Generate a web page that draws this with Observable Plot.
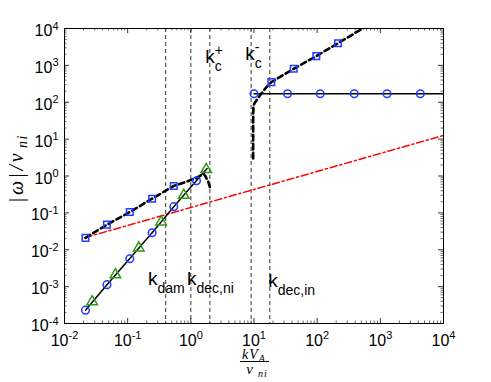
<!DOCTYPE html>
<html><head><meta charset="utf-8">
<script src="https://cdn.jsdelivr.net/npm/d3@7"></script>
<script src="https://cdn.jsdelivr.net/npm/@observablehq/plot@0.6"></script>
<style>body{margin:0;background:#fff} svg{display:block}</style>
</head><body><div id="chart"></div>
<script>
// ---- ticks ----
const xTicks = [1e-2, 1e-1, 1e0, 1e1, 1e2, 1e3, 1e4];
const xTickLabels = ["10^{-2}", "10^{-1}", "10^{0}", "10^{1}", "10^{2}", "10^{3}", "10^{4}"];
const yTicks = [1e-4, 1e-3, 1e-2, 1e-1, 1e0, 1e1, 1e2, 1e3, 1e4];
const yTickLabels = ["10^{-4}", "10^{-3}", "10^{-2}", "10^{-1}", "10^{0}", "10^{1}", "10^{2}", "10^{3}", "10^{4}"];

// ---- lower-k branch ----
const circLoX = [0.0215, 0.047, 0.108, 0.244, 0.537, 1.23];
const circLoY = [2.3e-4, 1.13e-3, 5.7e-3, 0.029, 0.148, 0.74];
const triX = [0.0274, 0.064, 0.15, 0.339, 0.773, 1.75];
const triY = [3.9e-4, 2.1e-3, 0.0112, 0.057, 0.30, 1.5];
const solidLoX = [0.0215, 0.047, 0.108, 0.244, 0.537, 1.23, 1.81];
const solidLoY = [2.3e-4, 1.13e-3, 5.8e-3, 0.029, 0.146, 0.76, 1.6];
const sqLoX = [0.0215, 0.047, 0.108, 0.244, 0.537];
const sqLoY = [0.021, 0.048, 0.105, 0.243, 0.537];
const dashLoX = [0.0215, 0.047, 0.108, 0.244, 0.537, 0.85, 1.25, 1.6, 1.72, 1.88, 2.0];
const dashLoY = [0.021, 0.048, 0.105, 0.243, 0.537, 0.7, 0.9, 1.15, 0.95, 0.72, 0.5];

// ---- high-k branch ----
const circHiX = [10, 34, 112, 387, 1276, 4300];
const circHiY = [170, 170, 170, 170, 170, 170];
const solidHiX = [10, 34, 112, 387, 1276, 4300, 10000];
const solidHiY = [170, 170, 170, 170, 170, 170, 170];
const sqHiX = [18.8, 42.5, 97, 214];
const sqHiY = [351, 809, 1780, 4000];
const dashHiX = [9.7, 9.7, 9.72, 9.8, 10.1, 10.6, 11.5, 13, 15.5, 18.8, 42.5, 97, 214, 600];
const dashHiY = [3, 20, 50, 75, 92, 103, 128, 170, 250, 351, 809, 1780, 4000, 11500];

// ---- red dash-dot reference ----
const redX = [0.0211, 10000];
const redY = [0.0213, 12.6];

// ---- characteristic wavenumbers ----
const kLines = [0.4, 1, 2, 9.0, 17.8];
const kLabelText = ["k_{dam}", "k_{dec,ni}", "k_{dec,in}", "k_{c}^{+}", "k_{c}^{-}"];
const kLabelX = [0.21, 0.87, 16.8, 1.69, 7.26];
const kLabelY = [1.12e-3, 1.12e-3, 9.9e-4, 1190, 1440];

// minor tick positions
const minorX = [], minorY = [];
for (let i = 0; i < xTicks.length - 1; i++) for (let m = 2; m <= 9; m++) minorX.push(xTicks[i] * m);
for (let i = 0; i < yTicks.length - 1; i++) for (let m = 2; m <= 9; m++) minorY.push(yTicks[i] * m);

const W = 491, H = 382, mL = 64, mR = 48, mT = 28, mB = 59;
const pw = W - mL - mR, ph = H - mT - mB;
const blue = "#1f3cff", green = "#2a9a12";

const plot = Plot.plot({
  width: W, height: H,
  marginLeft: mL, marginRight: mR, marginTop: mT, marginBottom: mB,
  x: {type: "log", domain: [1e-2, 1e4], axis: null},
  y: {type: "log", domain: [1e-4, 1e4], axis: null},
  style: {fontFamily: "'Liberation Sans', Arial, sans-serif", fontSize: "16px", background: "white", color: "black"},
  marks: [
    Plot.ruleX(kLines, {x: d => d, stroke: "#333", strokeWidth: 1, strokeDasharray: "4,3"}),
    Plot.line({length: redX.length}, {x: redX, y: redY, stroke: "#ff0000", strokeWidth: 1.5, strokeDasharray: "7,3,2,3", clip: true}),
    Plot.line({length: solidLoX.length}, {x: solidLoX, y: solidLoY, stroke: "black", strokeWidth: 1.5}),
    Plot.line({length: solidHiX.length}, {x: solidHiX, y: solidHiY, stroke: "black", strokeWidth: 1.5, clip: true}),
    Plot.line({length: dashLoX.length}, {x: dashLoX, y: dashLoY, stroke: "black", strokeWidth: 2.6, strokeDasharray: "5.5,3.5"}),
    Plot.line({length: dashHiX.length}, {x: dashHiX, y: dashHiY, stroke: "black", strokeWidth: 2.6, strokeDasharray: "5.5,3.5", clip: true}),
    Plot.dot({length: circLoX.length}, {x: circLoX, y: circLoY, r: 3.8, stroke: blue, strokeWidth: 1.5, fill: "none"}),
    Plot.dot({length: circHiX.length}, {x: circHiX, y: circHiY, r: 3.8, stroke: blue, strokeWidth: 1.5, fill: "none"}),
    Plot.dot({length: sqLoX.length}, {x: sqLoX, y: sqLoY, r: 3.7, symbol: "square", stroke: blue, strokeWidth: 1.5, fill: "none"}),
    Plot.dot({length: sqHiX.length}, {x: sqHiX, y: sqHiY, r: 3.7, symbol: "square", stroke: blue, strokeWidth: 1.5, fill: "none"}),
    Plot.dot({length: triX.length}, {x: triX, y: triY, r: 3.9, symbol: "triangle", stroke: green, strokeWidth: 1.5, fill: "none"}),
    Plot.frame({stroke: "black", strokeWidth: 1}),
    // inward ticks, all four sides
    Plot.ruleX(xTicks, {x: d => d, insetTop: ph - 5, stroke: "black", strokeWidth: 0.8}),
    Plot.ruleX(xTicks, {x: d => d, insetBottom: ph - 5, stroke: "black", strokeWidth: 0.8}),
    Plot.ruleX(minorX, {x: d => d, insetTop: ph - 2.5, stroke: "black", strokeWidth: 0.6}),
    Plot.ruleX(minorX, {x: d => d, insetBottom: ph - 2.5, stroke: "black", strokeWidth: 0.6}),
    Plot.ruleY(yTicks, {y: d => d, insetRight: pw - 5, stroke: "black", strokeWidth: 0.8}),
    Plot.ruleY(yTicks, {y: d => d, insetLeft: pw - 5, stroke: "black", strokeWidth: 0.8}),
    Plot.ruleY(minorY, {y: d => d, insetRight: pw - 2.5, stroke: "black", strokeWidth: 0.6}),
    Plot.ruleY(minorY, {y: d => d, insetLeft: pw - 2.5, stroke: "black", strokeWidth: 0.6}),
    // tick labels
    Plot.text({length: xTicks.length}, {x: xTicks, text: xTickLabels, frameAnchor: "bottom", dy: 22.5, lineAnchor: "bottom", textAnchor: "middle", fontSize: 16, ariaDescription: "xticklabels"}),
    Plot.text({length: yTicks.length}, {y: yTicks, text: yTickLabels, frameAnchor: "left", dx: -6, dy: 7.5, lineAnchor: "bottom", textAnchor: "end", fontSize: 16, ariaDescription: "yticklabels"}),
    // k labels
    Plot.text({length: kLabelText.length}, {x: kLabelX, y: kLabelY, text: kLabelText, textAnchor: "start", lineAnchor: "bottom", fontSize: 19, ariaDescription: "klabels"})
  ]
});

document.getElementById("chart").appendChild(plot);

const NS = "http://www.w3.org/2000/svg";
function rich(el, str, subSize, supSize, subDy, supDy) {
  el.textContent = "";
  let cur = 0, i = 0, lastSub = null;
  const isMark = k => (str[k] === "_" || str[k] === "^") && str[k + 1] === "{";
  while (i < str.length) {
    if (isMark(i)) {
      const c = str[i], j = str.indexOf("}", i);
      const ts = document.createElementNS(NS, "tspan");
      const target = c === "_" ? subDy : supDy;
      ts.setAttribute("dy", target - cur); cur = target;
      ts.setAttribute("font-size", c === "_" ? subSize : supSize);
      ts.textContent = str.slice(i + 2, j);
      if (lastSub && c === "^") ts.setAttribute("dx", -lastSub.getComputedTextLength());
      el.appendChild(ts);
      lastSub = c === "_" ? ts : null;
      i = j + 1;
    } else {
      let j = i; while (j < str.length && !isMark(j)) j++;
      const ts = document.createElementNS(NS, "tspan");
      ts.setAttribute("dy", 0 - cur); cur = 0;
      ts.textContent = str.slice(i, j);
      el.appendChild(ts);
      lastSub = null; i = j;
    }
  }
}
const svg = d3.select(plot);
svg.selectAll('g[aria-description="xticklabels"] text').each(function(d, k) { rich(this, xTickLabels[k], 11, 11, 4, -7); });
svg.selectAll('g[aria-description="yticklabels"] text').each(function(d, k) { rich(this, yTickLabels[k], 11, 11, 4, -6.5); });
svg.selectAll('g[aria-description="klabels"] text').each(function(d, k) { rich(this, kLabelText[k], 14, 14, 8, -8); });

// axis titles
const serif = "'Liberation Serif', 'DejaVu Serif', serif";
const yl = svg.append("text")
  .attr("transform", "translate(23,203) rotate(-90)")
  .attr("font-family", serif).attr("font-style", "italic").attr("font-size", 20)
  .attr("letter-spacing", 2.5).attr("text-anchor", "start").attr("fill", "black");
yl.append("tspan").text("|ω|/ν");
yl.append("tspan").attr("dx", 3).attr("dy", 4).attr("font-size", 14).attr("letter-spacing", 1.5).text("ni");

const xl = svg.append("g").attr("font-family", serif).attr("font-style", "italic").attr("fill", "black");
const num = xl.append("text").attr("x", 254).attr("y", 359).attr("text-anchor", "middle").attr("font-size", 14).attr("letter-spacing", 1);
num.append("tspan").text("kV");
num.append("tspan").attr("dy", 3).attr("font-size", 10).text("A");
xl.append("line").attr("x1", 240).attr("x2", 269).attr("y1", 361.5).attr("y2", 361.5).attr("stroke", "black").attr("stroke-width", 1);
const den = xl.append("text").attr("x", 257).attr("y", 374).attr("text-anchor", "middle").attr("font-size", 15);
den.append("tspan").text("ν");
den.append("tspan").attr("dx", 5).attr("dy", 3).attr("font-size", 10).attr("letter-spacing", 1).text("ni");
</script>
</body></html>
